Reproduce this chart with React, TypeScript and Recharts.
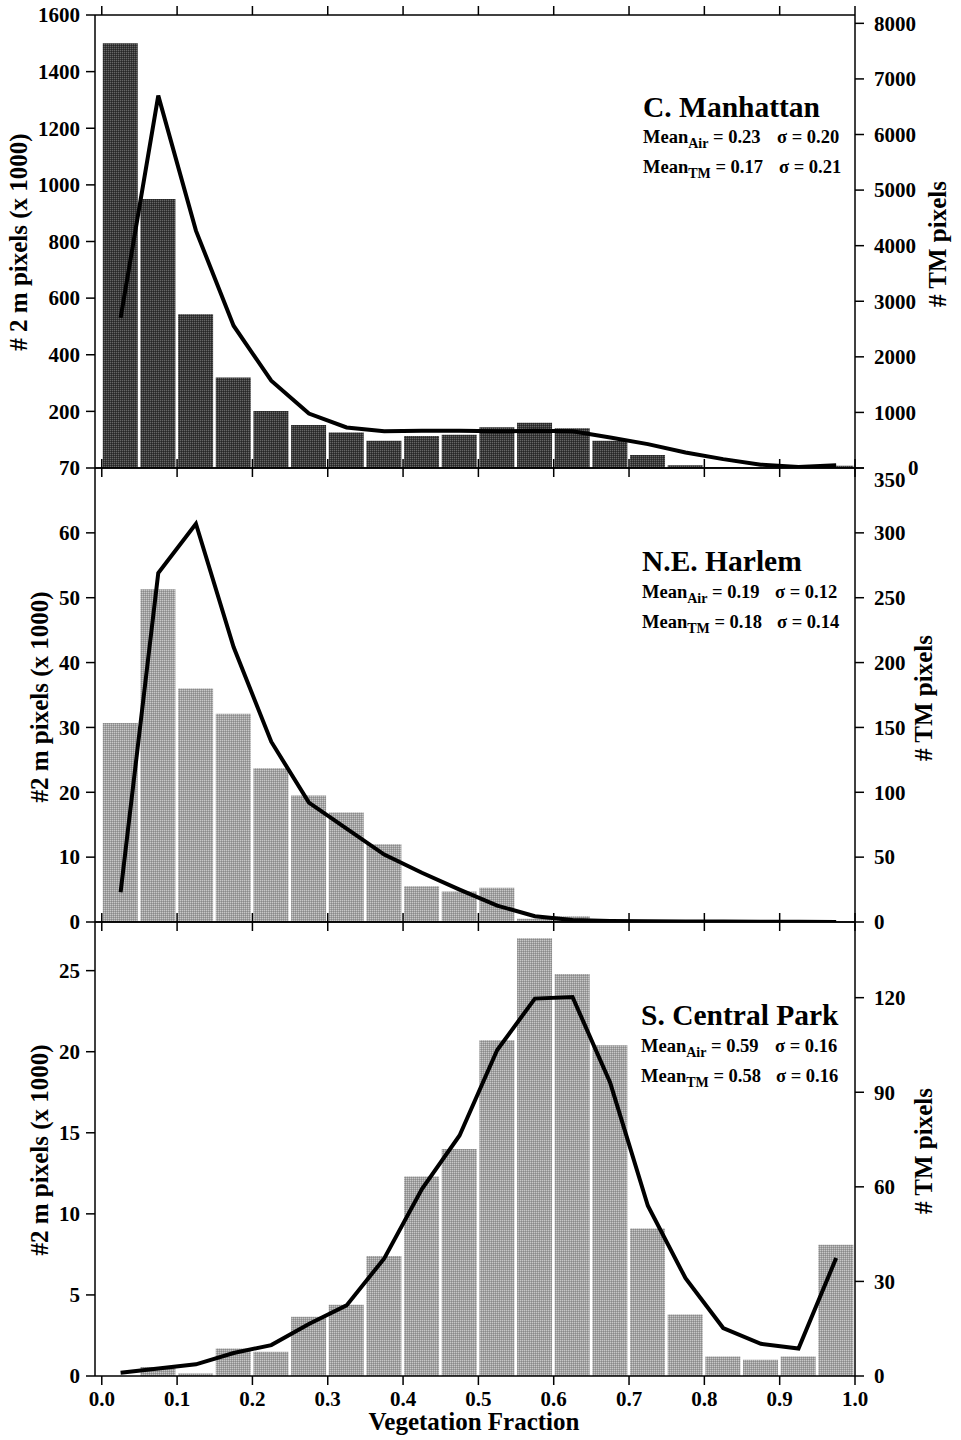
import React from 'react';
import { ComposedChart, Bar, Line, XAxis, YAxis } from 'recharts';

// bin centres of the vegetation fraction histogram (0.05 wide bins)
const binCenters = [0.025, 0.075, 0.125, 0.175, 0.225, 0.275, 0.325, 0.375, 0.425, 0.475,
  0.525, 0.575, 0.625, 0.675, 0.725, 0.775, 0.825, 0.875, 0.925, 0.975];
const xTicks = [0, 0.1, 0.2, 0.3, 0.4, 0.5, 0.6, 0.7, 0.8, 0.9, 1.0];

// C. Manhattan
const manhattanAir = [1500, 950, 543, 320, 201, 152, 125, 96, 113, 117, 144, 160, 140, 96, 46, 10, 3, 1, 0, 8];
const manhattanTM = [2700, 6700, 4270, 2560, 1570, 980, 730, 660, 670, 670, 660, 670, 660, 550, 430, 280, 160, 60, 20, 50];
const manhattanLeftTicks = [200, 400, 600, 800, 1000, 1200, 1400, 1600];
const manhattanRightTicks = [0, 1000, 2000, 3000, 4000, 5000, 6000, 7000, 8000];

// N.E. Harlem
const harlemAir = [30.7, 51.3, 36.0, 32.1, 23.7, 19.5, 16.9, 12.0, 5.5, 4.7, 5.3, 0.5, 0.9, 0.4, 0.1, 0.1, 0.05, 0, 0, 0];
const harlemTM = [23, 269, 307, 212, 139, 92, 72, 52, 38, 25, 12.6, 4.4, 1.5, 0.8, 0.5, 0.4, 0.3, 0.2, 0.1, 0];
const harlemLeftTicks = [0, 10, 20, 30, 40, 50, 60, 70];
const harlemRightTicks = [0, 50, 100, 150, 200, 250, 300, 350];

// S. Central Park
const parkAir = [0, 0.56, 0.15, 1.7, 1.5, 3.65, 4.4, 7.4, 12.3, 14.0, 20.7, 27.0, 24.8, 20.4, 9.1, 3.8, 1.2, 1.0, 1.2, 8.1];
const parkTM = [1, 2.4, 3.7, 7.3, 9.8, 16.5, 22.4, 37.3, 59.3, 76.3, 103.4, 119.7, 120.2, 93, 54, 31, 15.2, 10.2, 8.7, 37.4];
const parkLeftTicks = [0, 5, 10, 15, 20, 25];
const parkRightTicks = [0, 30, 60, 90, 120];

const FONT = '"Liberation Serif", "Times New Roman", serif';
const xDomain: [number, number] = [-0.009, 1.0];
const axisStyle = { stroke: '#000', strokeWidth: 1.5 };

const EmptyTick = () => <g />;

const XTick = (props: any) => {
  const { x, y, payload } = props;
  return (
    <text x={x} y={y} dy="0.8em" textAnchor="middle" fontFamily={FONT} fontWeight="bold" fontSize={21} fill="#000">
      {Number(payload.value).toFixed(1)}
    </text>
  );
};

const makeYTick = (shift?: (v: number) => [number, number]) => (props: any) => {
  const { x, y, payload, textAnchor } = props;
  const [dx, dy] = shift ? shift(payload.value) : [0, 0];
  return (
    <text x={x + dx} y={y + dy} dy="0.35em" textAnchor={textAnchor} fontFamily={FONT} fontWeight="bold" fontSize={21} fill="#000">
      {payload.value}
    </text>
  );
};

interface PanelProps {
  air: number[];
  tm: number[];
  fill: string;
  leftDomain: [number, number];
  leftTicks: number[];
  rightDomain: [number, number];
  rightTicks: number[];
  top: number;
  height: number;
  marginTop: number;
  marginBottom: number;
  last?: boolean;
  rightShift?: (v: number) => [number, number];
}

const Panel: React.FC<PanelProps> = ({ air, tm, fill, leftDomain, leftTicks, rightDomain, rightTicks, top, height, marginTop, marginBottom, last = false, rightShift }) => {
  const data = binCenters.map((x, i) => ({ x, air: air[i], tm: tm[i] }));
  return (
    <div style={{ position: 'absolute', left: 0, top, width: 961, height }}>
      <ComposedChart width={961} height={height} data={data} margin={{ top: marginTop, right: 0, bottom: marginBottom, left: 0 }}>
        <XAxis xAxisId="t" orientation="top" type="number" dataKey="x" domain={xDomain} allowDataOverflow
          ticks={xTicks} interval={0} height={1} tickSize={9} tick={EmptyTick} axisLine={axisStyle} tickLine={axisStyle} />
        <XAxis xAxisId="b" orientation="bottom" type="number" dataKey="x" domain={xDomain} allowDataOverflow
          ticks={xTicks} interval={0} height={last ? 64 : 1} tickSize={9} tickMargin={4}
          tick={last ? XTick : EmptyTick} axisLine={axisStyle} tickLine={axisStyle} />
        <YAxis yAxisId="l" orientation="left" width={95} domain={leftDomain} ticks={leftTicks} interval={0} allowDataOverflow
          tickSize={9} tickMargin={6} tick={makeYTick()} axisLine={axisStyle} tickLine={axisStyle} />
        <YAxis yAxisId="r" orientation="right" width={106} domain={rightDomain} ticks={rightTicks} interval={0} allowDataOverflow
          tickSize={9} tickMargin={10} tick={makeYTick(rightShift)} axisLine={axisStyle} tickLine={axisStyle} />
        <Bar xAxisId="b" yAxisId="l" dataKey="air" fill={fill} barSize={35} isAnimationActive={false} />
        <Line xAxisId="b" yAxisId="r" dataKey="tm" type="linear" stroke="#000" strokeWidth={4} dot={false} isAnimationActive={false} />
      </ComposedChart>
    </div>
  );
};

const Stats: React.FC<{ x: number; y: number; sub: string; mean: string; sigma: string; sx: number }> = ({ x, y, sub, mean, sigma, sx }) => (
  <text x={x} y={y} fontFamily={FONT} fontWeight="bold" fontSize={18.5} fill="#000">
    Mean
    <tspan fontSize={14} dy={5}>{sub}</tspan>
    <tspan dy={-5}>{` = ${mean}`}</tspan>
    <tspan x={sx}>{`\u03c3 = ${sigma}`}</tspan>
  </text>
);

const Title: React.FC<{ x: number; y: number; text: string }> = ({ x, y, text }) => (
  <text x={x} y={y} fontFamily={FONT} fontWeight="bold" fontSize={29.5} fill="#000">{text}</text>
);

const AxisTitle: React.FC<{ x: number; y: number; text: string }> = ({ x, y, text }) => (
  <text transform={`translate(${x},${y}) rotate(-90)`} textAnchor="middle" dominantBaseline="central"
    fontFamily={FONT} fontWeight="bold" fontSize={25} fill="#000">{text}</text>
);

export default function App() {
  return (
    <div style={{ position: 'absolute', left: 0, top: 0, width: 961, height: 1440, background: '#fff' }}>
      {/* halftone-like fills shared by the bars */}
      <svg width={0} height={0} style={{ position: 'absolute' }}>
        <defs>
          <pattern id="darkDots" width={2} height={2} patternUnits="userSpaceOnUse">
            <rect width={2} height={2} fill="#3a3a3a" />
            <rect width={1} height={1} fill="#666" />
            <rect x={1} y={1} width={1} height={1} fill="#262626" />
          </pattern>
          <pattern id="lightDots" width={2} height={2} patternUnits="userSpaceOnUse">
            <rect width={2} height={2} fill="#a2a2a2" />
            <rect width={1} height={1} fill="#c8c8c8" />
            <rect x={1} y={1} width={1} height={1} fill="#8a8a8a" />
          </pattern>
        </defs>
      </svg>

      <Panel air={manhattanAir} tm={manhattanTM} fill="url(#darkDots)"
        leftDomain={[0, 1600]} leftTicks={manhattanLeftTicks}
        rightDomain={[0, 8150]} rightTicks={manhattanRightTicks}
        top={0} height={490} marginTop={14} marginBottom={21}
        rightShift={(v) => (v === 0 ? [34, 0] : [0, 0])} />
      <Panel air={harlemAir} tm={harlemTM} fill="url(#lightDots)"
        leftDomain={[0, 70]} leftTicks={harlemLeftTicks}
        rightDomain={[0, 350]} rightTicks={harlemRightTicks}
        top={440} height={500} marginTop={27} marginBottom={17}
        rightShift={(v) => (v === 350 ? [0, 12] : [0, 0])} />
      <Panel air={parkAir} tm={parkTM} fill="url(#lightDots)"
        leftDomain={[0, 28]} leftTicks={parkLeftTicks}
        rightDomain={[0, 144]} rightTicks={parkRightTicks}
        top={894} height={546} marginTop={27} marginBottom={0} last />

      <svg width={961} height={1440} style={{ position: 'absolute', left: 0, top: 0, pointerEvents: 'none' }}>
        <Title x={643} y={117} text="C. Manhattan" />
        <Stats x={643} y={143} sub="Air" mean="0.23" sigma="0.20" sx={777} />
        <Stats x={643} y={173} sub="TM" mean="0.17" sigma="0.21" sx={779} />

        <Title x={642} y={571} text="N.E. Harlem" />
        <Stats x={642} y={598} sub="Air" mean="0.19" sigma="0.12" sx={775} />
        <Stats x={642} y={628} sub="TM" mean="0.18" sigma="0.14" sx={777} />

        <Title x={641} y={1025} text="S. Central Park" />
        <Stats x={641} y={1052} sub="Air" mean="0.59" sigma="0.16" sx={775} />
        <Stats x={641} y={1082} sub="TM" mean="0.58" sigma="0.16" sx={776} />

        <AxisTitle x={18} y={242} text="# 2 m pixels (x 1000)" />
        <AxisTitle x={39} y={697} text="#2 m pixels (x 1000)" />
        <AxisTitle x={39} y={1150} text="#2 m pixels (x 1000)" />
        <AxisTitle x={937} y={244} text="# TM pixels" />
        <AxisTitle x={923} y={698} text="# TM pixels" />
        <AxisTitle x={923} y={1151} text="# TM pixels" />

        <text x={474} y={1430} textAnchor="middle" fontFamily={FONT} fontWeight="bold" fontSize={25} fill="#000">
          Vegetation Fraction
        </text>
      </svg>
    </div>
  );
}
